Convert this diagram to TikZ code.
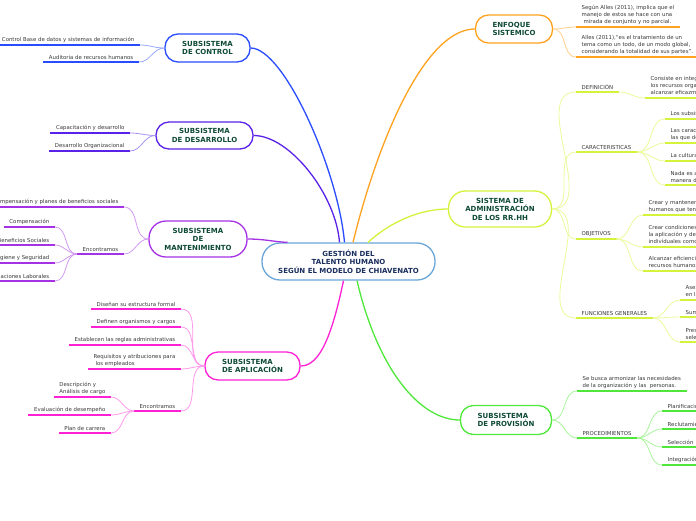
\documentclass[tikz,border=0pt]{standalone}
\usepackage{fontspec}
\setmainfont{DejaVu Sans}
\definecolor{kb}{HTML}{2A4CFF}\definecolor{kbl}{HTML}{9AAAFF}
\definecolor{kd}{HTML}{5A22E8}\definecolor{kdl}{HTML}{A894F2}
\definecolor{km}{HTML}{A632E6}\definecolor{kml}{HTML}{D29AF2}
\definecolor{ka}{HTML}{FF22D4}\definecolor{kal}{HTML}{FF99EE}
\definecolor{ke}{HTML}{FFA21F}\definecolor{kel}{HTML}{FFCF8A}
\definecolor{ky}{HTML}{D6F23C}\definecolor{kyl}{HTML}{ECFA9C}
\definecolor{kg}{HTML}{4FE83A}\definecolor{kgl}{HTML}{A8F59A}
\definecolor{kc}{HTML}{6AA6D8}
\definecolor{nodegreen}{HTML}{0E4A36}
\definecolor{navy}{HTML}{1B2F5E}
\definecolor{leafgray}{HTML}{3A3A3A}
\begin{document}
\begin{tikzpicture}[x=1pt,y=-1pt,
  mainnode/.style={draw, rounded corners=13pt, line width=1.3pt, fill=white,
    font=\fontsize{7}{8.5}\selectfont\bfseries, text=nodegreen, align=center, inner sep=0pt},
  leaf/.style={font=\fontsize{5.4}{7}\selectfont, text=leafgray, align=left, inner xsep=5.5pt, inner ysep=2.5pt},
  lleaf/.style={leaf, anchor=south east},
  rleaf/.style={leaf, anchor=south west},
  mainlink/.style={line width=1.3pt},
  leaflink/.style={line width=0.8pt},
  ul/.style={line width=2pt}
]
\useasboundingbox (0,0) rectangle (696,520);
\clip (0,0) rectangle (696,520);
\fill[white] (0,0) rectangle (696,520);

% ---------- main nodes
\node[mainnode, draw=kc, text=navy, minimum width=173pt, minimum height=37pt, rounded corners=18pt] (c) at (348.5,261.5)
  {GESTIÓN DEL\\TALENTO HUMANO\\SEGÚN EL MODELO DE CHIAVENATO};
\node[mainnode, draw=kb, minimum width=85pt, minimum height=28pt] (ctl) at (207.5,48) {SUBSISTEMA\\DE CONTROL};
\node[mainnode, draw=kd, minimum width=97pt, minimum height=27pt] (des) at (204.5,135.5) {SUBSISTEMA\\DE DESARROLLO};
\node[mainnode, draw=km, minimum width=98pt, minimum height=36pt, rounded corners=17pt] (man) at (198,239) {SUBSISTEMA\\DE\\MANTENIMIENTO};
\node[mainnode, draw=ka, minimum width=95pt, minimum height=28pt, align=left] (apl) at (252.5,366) {SUBSISTEMA\\DE APLICACIÓN};
\node[mainnode, draw=ke, minimum width=77pt, minimum height=28pt, align=left] (enf) at (514,29) {ENFOQUE\\SISTEMICO};
\node[mainnode, draw=ky, minimum width=103pt, minimum height=36pt, rounded corners=17pt] (adm) at (500,209) {SISTEMA DE\\ADMINISTRACIÓN\\DE LOS RR.HH};
\node[mainnode, draw=kg, minimum width=91pt, minimum height=29pt, align=left] (pro) at (506,420) {SUBSISTEMA\\DE PROVISIÓN};

% ---------- main connectors
\draw[mainlink, kb] ([xshift=-4pt]c.north) .. controls (338,170) and (284,48) .. (ctl.east);
\draw[mainlink, kd] ([xshift=-9pt]c.north) .. controls (336,195) and (290,135.5) .. (des.east);
\draw[mainlink, km] ([xshift=-61pt]c.north) .. controls (275,242) and (265,239) .. (man.east);
\draw[mainlink, ka] ([xshift=-5pt]c.south) .. controls (332,335) and (320,366) .. (apl.east);
\draw[mainlink, ke] ([xshift=4.5pt]c.north) .. controls (378,140) and (425,29) .. (enf.west);
\draw[mainlink, ky] ([xshift=19.5pt]c.north) .. controls (395,218) and (425,209) .. (adm.west);
\draw[mainlink, kg] ([xshift=8.5pt]c.south) .. controls (378,370) and (420,420) .. (pro.west);

% ---------- CONTROL
\node[lleaf] (c1) at (140,45) {Control Base de datos y sistemas de información};
\node[lleaf] (c2) at (139,62) {Auditoria de recursos humanos};
\foreach \n in {c1,c2}{
  \draw[ul, kb] (\n.south west) -- (\n.south east);
  \draw[leaflink, kbl] (ctl.west) to[out=180,in=0] (\n.south east);}

% ---------- DESARROLLO
\node[lleaf] (d1) at (130,133) {Capacitación y desarrollo};
\node[lleaf] (d2) at (130,151) {Desarrollo Organizacional};
\foreach \n in {d1,d2}{
  \draw[ul, kd] (\n.south west) -- (\n.south east);
  \draw[leaflink, kdl] (des.west) to[out=180,in=0] (\n.south east);}

% ---------- MANTENIMIENTO
\node[lleaf] (m1) at (124,207) {Compensación y planes de beneficios sociales};
\node[lleaf] (m2) at (124,254) {Encontramos};
\node[lleaf] (m3) at (55,227) {Compensación};
\node[lleaf] (m4) at (55,245) {Beneficios Sociales};
\node[lleaf] (m5) at (55,263) {Higiene y Seguridad};
\node[lleaf] (m6) at (55,281) {Relaciones Laborales};
\foreach \n in {m1,m2}{
  \draw[ul, km] (\n.south west) -- (\n.south east);
  \draw[leaflink, kml] (man.west) to[out=180,in=0] (\n.south east);}
\foreach \n in {m3,m4,m5,m6}{
  \draw[ul, km] (\n.south west) -- (\n.south east);
  \draw[leaflink, kml] (m2.south west) to[out=180,in=0] (\n.south east);}

% ---------- APLICACION
\node[lleaf] (a1) at (181,309) {Diseñan su estructura formal};
\node[lleaf] (a2) at (181,327) {Definen organismos y cargos};
\node[lleaf] (a3) at (181,345) {Establecen las reglas administrativas};
\node[lleaf] (a4) at (181,369) {Requisitos y atribuciones para\\\hspace{2pt}los empleados};
\node[lleaf] (a5) at (181,411) {Encontramos};
\node[lleaf] (a6) at (111,397) {Descripción y\\Análisis de cargo};
\node[lleaf] (a7) at (111,415) {Evaluación de desempeño};
\node[lleaf] (a8) at (111,433) {Plan de carrera};
\foreach \n in {a1,a2,a3,a4,a5}{
  \draw[ul, ka] (\n.south west) -- (\n.south east);
  \draw[leaflink, kal] (apl.west) to[out=180,in=0] (\n.south east);}
\foreach \n in {a6,a7,a8}{
  \draw[ul, ka] (\n.south west) -- (\n.south east);
  \draw[leaflink, kal] (a5.south west) to[out=180,in=0] (\n.south east);}

% ---------- ENFOQUE
\node[rleaf] (e1) at (576,27) {Según Alles (2011), implica que el\\manejo de estos se hace con una\\\hspace{2pt}mirada de conjunto y no parcial.};
\node[rleaf] (e2) at (576,57) {Alles (2011),“es el tratamiento de un\\tema como un todo, de un modo global,\\considerando la totalidad de sus partes”.};
\foreach \n in {e1,e2}{
  \draw[ul, ke] (\n.south west) -- (\n.south east);
  \draw[leaflink, kel] (enf.east) to[out=0,in=180] (\n.south west);}

% ---------- ADMINISTRACION
\node[rleaf] (y1) at (576,92) {DEFINICIÓN};
\node[rleaf] (y2) at (576,152) {CARACTERISTICAS};
\node[rleaf] (y3) at (576,239) {OBJETIVOS};
\node[rleaf] (y4) at (576,318) {FUNCIONES GENERALES};
\foreach \n in {y1,y2,y3,y4}{
  \draw[ul, ky] (\n.south west) -- (\n.south east);
  \draw[leaflink, kyl] (adm.east) to[out=0,in=180] (\n.south west);}
\node[rleaf] (y11) at (645,98) {Consiste en integrar y coordinar\\los recursos organizacionales para\\alcanzar eficazmente los objetivos};
\node[rleaf] (y21) at (665,119) {Los subsistemas forman un proceso global};
\node[rleaf] (y22) at (665,143) {Las características de la organización son\\las que determinan los procesos};
\node[rleaf] (y23) at (665,161) {La cultura organizacional influye};
\node[rleaf] (y24) at (665,185) {Nada es absoluto ni definitivo\\manera de actuar};
\node[rleaf] (y31) at (643,215) {Crear y mantener un conjunto de recursos\\humanos que tengan habilidad};
\node[rleaf] (y32) at (643,247) {Crear condiciones organizacionales para\\la aplicación y desarrollo de capacidades\\individuales como grupales};
\node[rleaf] (y33) at (643,271) {Alcanzar eficiencia y eficacia con los\\recursos humanos disponibles};
\node[rleaf] (y41) at (680,300) {Asesoría\\en la organización};
\node[rleaf] (y42) at (680,317) {Suministro};
\node[rleaf] (y43) at (680,342) {Prestación\\selección};
\draw[ul, ky] (y11.south west) -- (y11.south east);
\draw[leaflink, kyl] (y1.south east) to[out=0,in=180] (y11.south west);
\foreach \n in {y21,y22,y23,y24}{
  \draw[ul, ky] (\n.south west) -- (\n.south east);
  \draw[leaflink, kyl] (y2.south east) to[out=0,in=180] (\n.south west);}
\foreach \n in {y31,y32,y33}{
  \draw[ul, ky] (\n.south west) -- (\n.south east);
  \draw[leaflink, kyl] (y3.south east) to[out=0,in=180] (\n.south west);}
\foreach \n in {y41,y42,y43}{
  \draw[ul, ky] (\n.south west) -- (\n.south east);
  \draw[leaflink, kyl] (y4.south east) to[out=0,in=180] (\n.south west);}

% ---------- PROVISION
\node[rleaf] (p1) at (577,391) {Se busca armonizar las necesidades\\de la organización y las\ \ personas.};
\node[rleaf] (p2) at (577,438) {PROCEDIMIENTOS};
\foreach \n in {p1,p2}{
  \draw[ul, kg] (\n.south west) -- (\n.south east);
  \draw[leaflink, kgl] (pro.east) to[out=0,in=180] (\n.south west);}
\node[rleaf] (p21) at (662,411) {Planificación};
\node[rleaf] (p22) at (662,429) {Reclutamiento};
\node[rleaf] (p23) at (662,447) {Selección};
\node[rleaf] (p24) at (662,465) {Integración};
\foreach \n in {p21,p22,p23,p24}{
  \draw[ul, kg] (\n.south west) -- (\n.south east);
  \draw[leaflink, kgl] (p2.south east) to[out=0,in=180] (\n.south west);}
\end{tikzpicture}
\end{document}
